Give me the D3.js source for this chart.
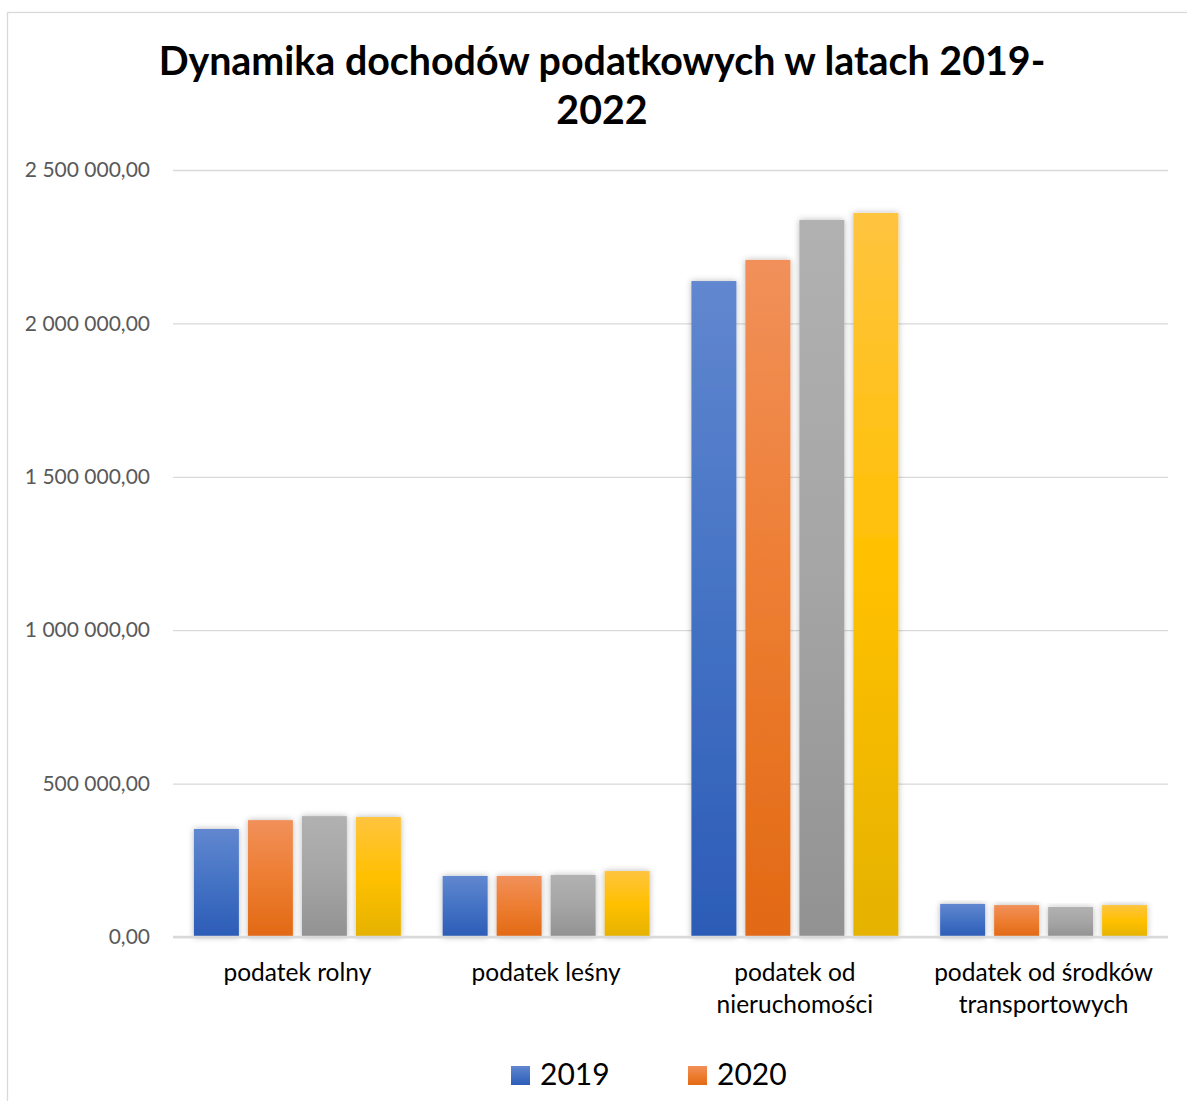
<!DOCTYPE html>
<html>
<head>
<meta charset="utf-8">
<script src="https://cdn.jsdelivr.net/npm/d3@7"></script>
<style>
  html, body { margin: 0; padding: 0; background: #fff; overflow: hidden; }
  text { font-family: Lato, "Open Sans", sans-serif; }
</style>
</head>
<body>
<svg id="chart" width="1187" height="1101"></svg>
<script>
// ---- data ----
const titleLines = ["Dynamika dochodów podatkowych w latach 2019-", "2022"];
const categories = [
  ["podatek rolny"],
  ["podatek leśny"],
  ["podatek od", "nieruchomości"],
  ["podatek od środków", "transportowych"]
];
const seriesNames = ["2019", "2020", "2021", "2022"];
const values2019 = [352000, 199000, 2138000, 108000];
const values2020 = [381000, 199000, 2207000, 104000];
const values2021 = [394000, 202000, 2337000, 98000];
const values2022 = [391000, 215000, 2360000, 104000];
const yTicks = [0, 500000, 1000000, 1500000, 2000000, 2500000];
const seriesColors = [
  ["#6187cf", "#4472c4", "#2c5cb7"],
  ["#f1905a", "#ed7d31", "#e26914"],
  ["#b1b1b1", "#a5a5a5", "#929292"],
  ["#ffc43f", "#ffc000", "#e5b200"]
];

const seriesValues = [values2019, values2020, values2021, values2022];

const svg = d3.select("#chart");
const W = 1187, H = 1101;
const margin = {left: 173, right: 19, top: 170, bottom: 164};
const plotW = W - margin.left - margin.right;
const plotH = H - margin.top - margin.bottom;

// chart border
svg.append("rect")
  .attr("x", 7.5).attr("y", 12.5)
  .attr("width", W + 20).attr("height", H + 20)
  .attr("fill", "#fff").attr("stroke", "#d9d9d9").attr("stroke-width", 1.3);

// defs: gradients & shadow
const defs = svg.append("defs");
seriesColors.forEach((c, i) => {
  const g = defs.append("linearGradient").attr("id", "grad" + i)
    .attr("x1", 0).attr("y1", 0).attr("x2", 0).attr("y2", 1);
  g.append("stop").attr("offset", "0%").attr("stop-color", c[0]);
  g.append("stop").attr("offset", "50%").attr("stop-color", c[1]);
  g.append("stop").attr("offset", "100%").attr("stop-color", c[2]);
});
const f = defs.append("filter").attr("id", "shadow")
  .attr("x", "-30%").attr("y", "-10%").attr("width", "160%").attr("height", "130%");
f.append("feDropShadow").attr("dx", 0).attr("dy", 0).attr("stdDeviation", 3)
  .attr("flood-color", "#000").attr("flood-opacity", 0.28);

// title
const title = svg.append("text")
  .attr("text-anchor", "middle")
  .attr("font-weight", 700)
  .attr("font-size", 36)
  .attr("fill", "#000");
title.selectAll("tspan").data(titleLines).join("tspan")
  .attr("x", 602)
  .attr("y", (d, i) => 75 + i * 49)
  .text(d => d);
// fit first line width to reference
const firstLen = title.select("tspan").node().getComputedTextLength();
const fs = 36 * 887 / firstLen;
title.attr("font-size", fs);

// scales
const x0 = d3.scaleBand()
  .domain(d3.range(categories.length))
  .range([margin.left, margin.left + plotW])
  .paddingInner(0.168).paddingOuter(0.084);
const x1 = d3.scaleBand()
  .domain(d3.range(seriesNames.length))
  .range([0, x0.bandwidth()])
  .paddingInner(0.1667).paddingOuter(0);
const y = d3.scaleLinear()
  .domain([0, 2500000])
  .range([margin.top + plotH, margin.top]);

// gridlines
const yAxis = d3.axisLeft(y)
  .tickValues(yTicks)
  .tickSize(-plotW)
  .tickPadding(23)
  .tickFormat(d => d3.format(",.2f")(d).replace(/,/g, " ").replace(".", ","));
const gy = svg.append("g")
  .attr("transform", `translate(${margin.left},0)`)
  .call(yAxis);
gy.select(".domain").remove();
gy.selectAll(".tick line").attr("stroke", "#d9d9d9").attr("stroke-width", 1.3);
gy.selectAll(".tick text")
  .attr("fill", "#595959")
  .attr("font-size", 21)
  .attr("font-family", "Lato, sans-serif");

// bars
const groups = svg.append("g").selectAll("g")
  .data(categories.map((c, ci) => ci))
  .join("g")
  .attr("transform", ci => `translate(${x0(ci)},0)`);
groups.selectAll("rect")
  .data(ci => seriesValues.map((vals, si) => ({si, v: vals[ci]})))
  .join("rect")
  .attr("x", d => x1(d.si))
  .attr("width", x1.bandwidth())
  .attr("y", d => y(d.v))
  .attr("height", d => y(0) - y(d.v))
  .attr("fill", d => `url(#grad${d.si})`)
  .attr("filter", "url(#shadow)");

// baseline axis
svg.append("line")
  .attr("x1", margin.left).attr("x2", margin.left + plotW)
  .attr("y1", y(0)).attr("y2", y(0))
  .attr("stroke", "#d9d9d9").attr("stroke-width", 2.5);

// category labels
const xlab = svg.append("g").selectAll("text")
  .data(categories)
  .join("text")
  .attr("text-anchor", "middle")
  .attr("font-size", 24.5)
  .attr("fill", "#000");
xlab.each(function(lines, ci) {
  d3.select(this).selectAll("tspan").data(lines).join("tspan")
    .attr("x", x0(ci) + x0.bandwidth() / 2)
    .attr("y", (d, i) => 981 + i * 32)
    .text(d => d);
});

// legend (2 per row); only rows that fit inside the picture are visible
const legendItems = seriesNames
  .map((name, i) => ({name, i, lx: 511 + (i % 2) * 177, ly: 1066 + Math.floor(i / 2) * 50}))
  .filter(d => d.ly + 30 < H);
const leg = svg.append("g").selectAll("g").data(legendItems).join("g")
  .attr("transform", d => `translate(${d.lx},${d.ly})`);
leg.append("rect")
  .attr("width", 19).attr("height", 19)
  .attr("fill", d => `url(#grad${d.i})`);
leg.append("text")
  .attr("x", 29).attr("y", 19)
  .attr("font-size", 30)
  .attr("fill", "#000")
  .text(d => d.name);
</script>
</body>
</html>
